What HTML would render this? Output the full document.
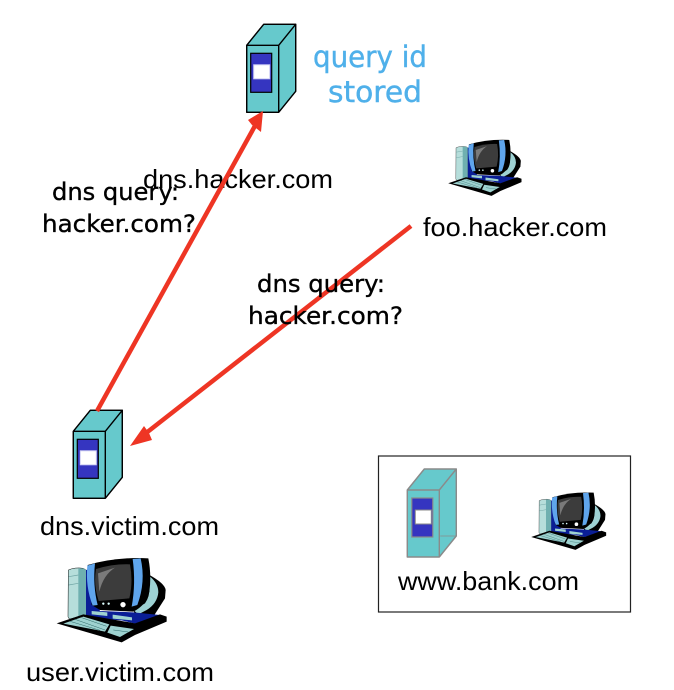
<!DOCTYPE html>
<html><head><meta charset="utf-8">
<style>
html,body{margin:0;padding:0;background:#fff;width:674px;height:690px;overflow:hidden}
svg{display:block}
.a{font-family:"Liberation Sans",sans-serif;font-size:26px;fill:#000}
.c{font-family:"DejaVu Sans",sans-serif;font-size:24px;fill:#000;stroke:#000;stroke-width:.35px}
.b{font-family:"DejaVu Sans",sans-serif;font-size:29px;fill:#4fb0ea;stroke:#4fb0ea;stroke-width:.4px}
</style></head>
<body>
<svg width="674" height="690" viewBox="0 0 674 690" xmlns="http://www.w3.org/2000/svg">
<defs>
<g id="pc">
 <g transform="translate(0,15)">
  <path d="M55 45 Q75 36 100 40 L108 45 L108 180 L60 192 Q54 190 54 185 Z" fill="#b6dedb" stroke="#111" stroke-width="1.5"/>
  <path d="M85 40 L100 40 L108 45 L108 180 L85 186 Z" fill="#6fb0b0"/>
  <path d="M56 65 L85 60 M56 90 L85 85" stroke="#6fa5a5" stroke-width="2" fill="none"/>
  <path d="M108 45 L125 40 L150 170 L108 188 Z" fill="#0a1e96"/>
  <path d="M295 58 Q345 85 347 105 L345 130 L312 182 L255 182 L235 100 Z" fill="#000"/>
  <path d="M300 65 Q325 85 325 112 Q322 145 290 165 L265 178 L250 165 L285 145 Q300 125 298 95 Z" fill="#9ed2d4"/>
  <path d="M113 30 Q200 5 295 10 Q305 60 298 110 Q290 150 250 170 L150 165 L125 150 Z" fill="#000"/>
  <path d="M112 32 L135 25 Q128 90 143 150 L128 152 Q106 95 112 32 Z" fill="#5fa5ec"/>
  <path d="M248 12 L272 10 Q288 80 262 150 L245 155 Q258 85 248 12 Z" fill="#5fa5ec"/>
  <path d="M138 42 Q190 26 240 28 Q250 80 238 130 L146 138 Q130 90 138 42 Z" fill="#3c3c3c"/>
  <path d="M144 55 L195 38 Q160 60 148 110 Z" fill="#7a7a7a"/>
  <circle cx="160" cy="146" r="3.5" fill="#dff"/><circle cx="176" cy="146" r="3.5" fill="#dff"/><circle cx="219" cy="149" r="8" fill="#fff"/>
  <path d="M108 180 L150 168 L250 172 L330 180 L255 206 L215 196 L130 190 Z" fill="#0a1e96"/>
  <path d="M20 205 L100 178 L255 205 L330 178 L350 185 L350 200 L255 240 L215 262 Z" fill="#000"/>
  <path d="M125 168 L172 172 L172 183 L125 178 Z" fill="#9ed2d0"/>
  <path d="M188 179 L246 187 L246 196 L188 191 Z" fill="#9ed2d0"/>
  <path d="M40 206 L100 185 L178 208 L165 230 Z" fill="#9ed2d0"/>
  <path d="M182 212 L252 222 L210 246 L172 233 Z" fill="#9ed2d0"/>
  <path d="M75 193 L165 225 M60 199 L150 226 M95 188 L170 214" stroke="#24605f" stroke-width="1.4" fill="none"/>
  <path d="M190 225 L235 231" stroke="#24605f" stroke-width="1.4" fill="none"/>
 </g>
</g>
<g id="srv">
  <path d="M0 21 L17 0 L49 0 L49 67 L32 88 L0 88 Z" fill="#66c9cc"/>
  <path d="M0 21 L17 0 L49 0 L32 21 Z M0 21 H32 V88 H0 Z M32 21 L49 0 V67 L32 88" fill="none" stroke-width="1.4" stroke-linejoin="round"/>
</g>
</defs>

<!-- top server -->
<g transform="translate(246.7,24.3)">
  <use href="#srv" stroke="#000"/>
  <rect x="4" y="29" width="21" height="39" fill="#3535c0" stroke="#000" stroke-width="1.2"/>
  <rect x="7" y="40.5" width="16" height="14" fill="#fff" stroke="#d0d0f5" stroke-width="1"/>
</g>
<!-- victim server -->
<g transform="translate(73.3,410.3)">
  <use href="#srv" stroke="#000"/>
  <rect x="4" y="29" width="21" height="39" fill="#3535c0" stroke="#000" stroke-width="1.2"/>
  <rect x="7" y="40.5" width="16" height="14" fill="#fff" stroke="#d0d0f5" stroke-width="1"/>
</g>
<!-- bank box -->
<rect x="378.5" y="456" width="252" height="156" fill="#fff" stroke="#222" stroke-width="1.2"/>
<g transform="translate(407.3,469)">
  <use href="#srv" stroke="#8a8a8a"/>
  <path d="M33 67 H49" fill="none" stroke="#8a8a8a" stroke-width="0.8"/>
  <rect x="4.5" y="29" width="21" height="39" fill="#3535c0" stroke="#8a8a8a" stroke-width="1.2"/>
  <rect x="8" y="41" width="16" height="14" fill="#fff" stroke="#8a8a8a" stroke-width="1"/>
</g>

<!-- computers -->
<use href="#pc" transform="translate(50,550) scale(.3333)"/>
<use href="#pc" transform="translate(443.8,134.4) scale(.222)"/>
<use href="#pc" transform="translate(526.7,487) scale(.227)"/>

<!-- text under arrows -->
<text class="a" x="143" y="188" textLength="190" lengthAdjust="spacingAndGlyphs">dns.hacker.com</text>
<text class="a" x="423" y="236" textLength="184" lengthAdjust="spacingAndGlyphs">foo.hacker.com</text>
<text class="a" x="40" y="535" textLength="179" lengthAdjust="spacingAndGlyphs">dns.victim.com</text>
<text class="a" x="26" y="681" textLength="188" lengthAdjust="spacingAndGlyphs">user.victim.com</text>
<text class="a" x="398" y="590" textLength="181" lengthAdjust="spacingAndGlyphs">www.bank.com</text>

<text class="b" x="313" y="67" textLength="114" lengthAdjust="spacingAndGlyphs">query id</text>
<text class="b" x="328" y="102" textLength="94" lengthAdjust="spacingAndGlyphs">stored</text>

<!-- arrows -->
<g stroke="#ee3524" stroke-width="4.5" fill="none">
  <path d="M97 411 L256 124"/>
  <path d="M411 226 L141 437"/>
</g>
<path d="M263 111 L261 132 L252 125 L248 120 Z" fill="#ee3524"/>
<path d="M130 446 L144 426 L149 433 L152 440 Z" fill="#ee3524"/>

<text class="c" x="52" y="200" textLength="127" lengthAdjust="spacingAndGlyphs">dns query:</text>
<text class="c" x="42" y="232" textLength="154" lengthAdjust="spacingAndGlyphs">hacker.com?</text>
<text class="c" x="257" y="292" textLength="128" lengthAdjust="spacingAndGlyphs">dns query:</text>
<text class="c" x="248" y="324" textLength="155" lengthAdjust="spacingAndGlyphs">hacker.com?</text>
</svg>
</body></html>
